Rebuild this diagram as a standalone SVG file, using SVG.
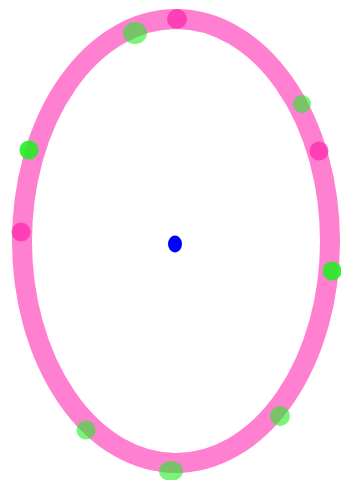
<svg xmlns="http://www.w3.org/2000/svg" width="341" height="480" viewBox="0 0 341 480">
<style>
.ring{fill:none;stroke:#ff7fd0;stroke-width:20}
.mag{fill:#ff2fae;fill-opacity:0.8}
.gs{fill:#22ee22;fill-opacity:0.6}
.gb{fill:#22ee22;fill-opacity:0.9}
</style>
<rect width="341" height="480" fill="#fff"/>
<g id="ring"><ellipse class="ring" cx="176" cy="241" rx="154" ry="222"/></g>
<g id="points">
<circle id="m1" class="mag" cx="177" cy="19" r="10"/>
<circle id="m2" class="mag" cx="21" cy="232" r="9.5"/>
<circle id="m3" class="mag" cx="319" cy="151" r="9.5"/>
<ellipse id="g1" class="gs" cx="135" cy="33" rx="12" ry="11"/>
<circle id="g2" class="gb" cx="29" cy="150" r="9.5"/>
<circle id="g3" class="gs" cx="302" cy="104" r="9"/>
<circle id="g4" class="gb" cx="332" cy="271" r="9.5"/>
<circle id="g5" class="gs" cx="86" cy="430" r="9.5"/>
<circle id="g6" class="gs" cx="280" cy="416" r="10"/>
<ellipse id="g7" class="gs" cx="171" cy="471" rx="12" ry="10"/>
<ellipse id="c" cx="175" cy="244" rx="7" ry="8.5" fill="#0000ff"/>
</g>
</svg>
